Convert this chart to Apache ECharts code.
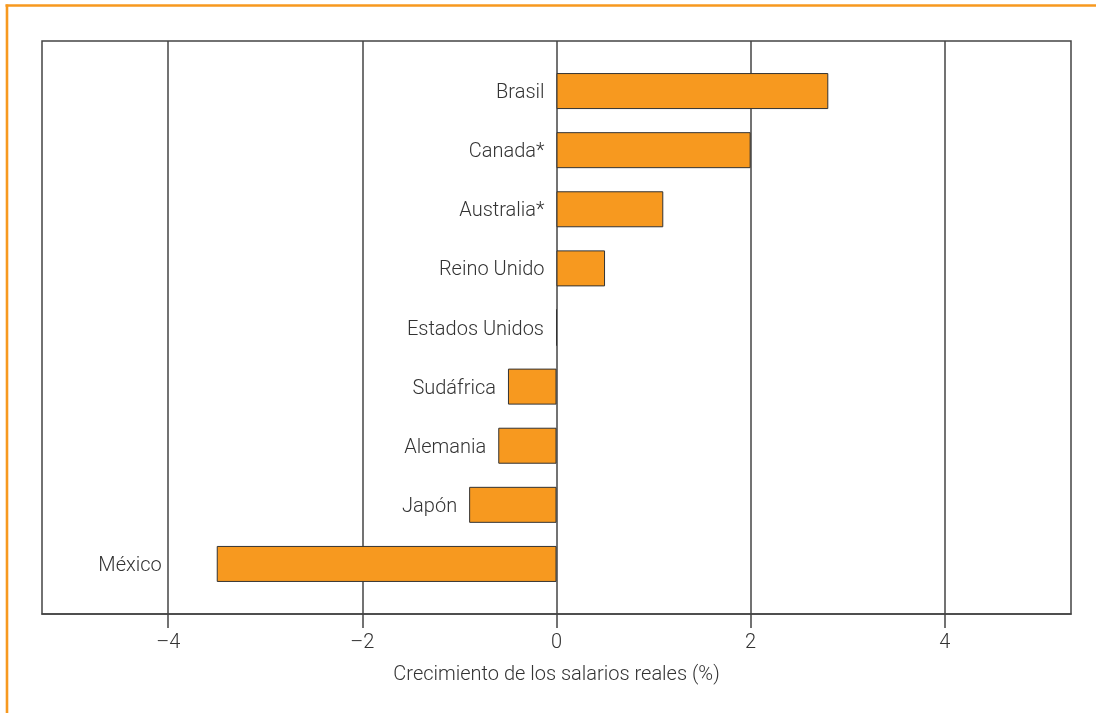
<!DOCTYPE html>
<html>
<head>
<meta charset="utf-8">
<script src="https://cdn.jsdelivr.net/npm/echarts@6/dist/echarts.min.js"></script>
<style>
html,body{margin:0;padding:0;background:#fff;}
#chart{width:1096px;height:713px;}
</style>
</head>
<body>
<div id="chart"></div>
<script>
const categories = ['Brasil','Canada*','Australia*','Reino Unido','Estados Unidos','Sudáfrica','Alemania','Japón','México'];
const values = [2.8, 2.0, 1.1, 0.5, 0, -0.5, -0.6, -0.9, -3.5];
const tickValues = [-4, -2, 0, 2, 4];
const axisTitle = 'Crecimiento de los salarios reales (%)';

const FONT = 'Roboto, "Liberation Sans", sans-serif';
const FW = 300;
const TEXT = '#333';
const ORANGE = '#F7991F';
const XMIN = -5.3, XMAX = 5.3;

const labelOffsets = {'México': [-43, 2]};

const barData = values.map((v, i) => {
  const item = { value: v };
  if (labelOffsets[categories[i]]) item.label = { offset: labelOffsets[categories[i]] };
  return item;
});

const chart = echarts.init(document.getElementById('chart'), null, {renderer: 'canvas'});
chart.setOption({
  backgroundColor: '#fff',
  animation: false,
  textStyle: { fontFamily: FONT },
  graphic: [
    { type: 'line', shape: {x1: 5.5, y1: 5.5, x2: 1096, y2: 5.5}, style: {stroke: ORANGE, lineWidth: 2.6} },
    { type: 'line', shape: {x1: 7, y1: 4.5, x2: 7, y2: 713}, style: {stroke: ORANGE, lineWidth: 2.6} }
  ],
  grid: [
    { left: 42, top: 41, width: 1029, height: 573, show: true, borderColor: '#444', borderWidth: 1.5, backgroundColor: 'transparent' },
    { left: 42, top: 61.5, width: 1029, height: 532 }
  ],
  xAxis: [
    {
      gridIndex: 0, type: 'value', min: XMIN, max: XMAX,
      name: axisTitle, nameLocation: 'middle', nameGap: 51,
      nameTextStyle: { fontSize: 20, color: TEXT, fontFamily: FONT, fontWeight: FW },
      axisLine: { show: true, lineStyle: { color: '#444', width: 1.5 } },
      axisTick: { show: true, length: 14, customValues: tickValues, lineStyle: { color: '#444', width: 1.5 } },
      axisLabel: { show: true, customValues: tickValues, margin: 19, fontSize: 20, color: TEXT, fontFamily: FONT, fontWeight: FW,
        formatter: v => String(v).replace('-', '\u2013') },
      splitLine: { show: true, lineStyle: { color: '#444', width: 1.5 } }
    },
    { gridIndex: 1, type: 'value', min: XMIN, max: XMAX, show: false, splitLine: {show: false} }
  ],
  yAxis: [
    { gridIndex: 0, type: 'value', show: false, splitLine: {show: false} },
    { gridIndex: 1, type: 'category', data: categories, inverse: true, show: false }
  ],
  series: [
    {
      type: 'bar', xAxisIndex: 1, yAxisIndex: 1,
      data: barData, barWidth: 36,
      itemStyle: { color: ORANGE, borderColor: '#333', borderWidth: 1 },
      label: {
        show: true, position: 'left', distance: 12, offset: [0, 2],
        fontSize: 20, color: TEXT, fontFamily: FONT, fontWeight: FW,
        formatter: p => p.name
      }
    }
  ]
});
</script>
</body>
</html>
